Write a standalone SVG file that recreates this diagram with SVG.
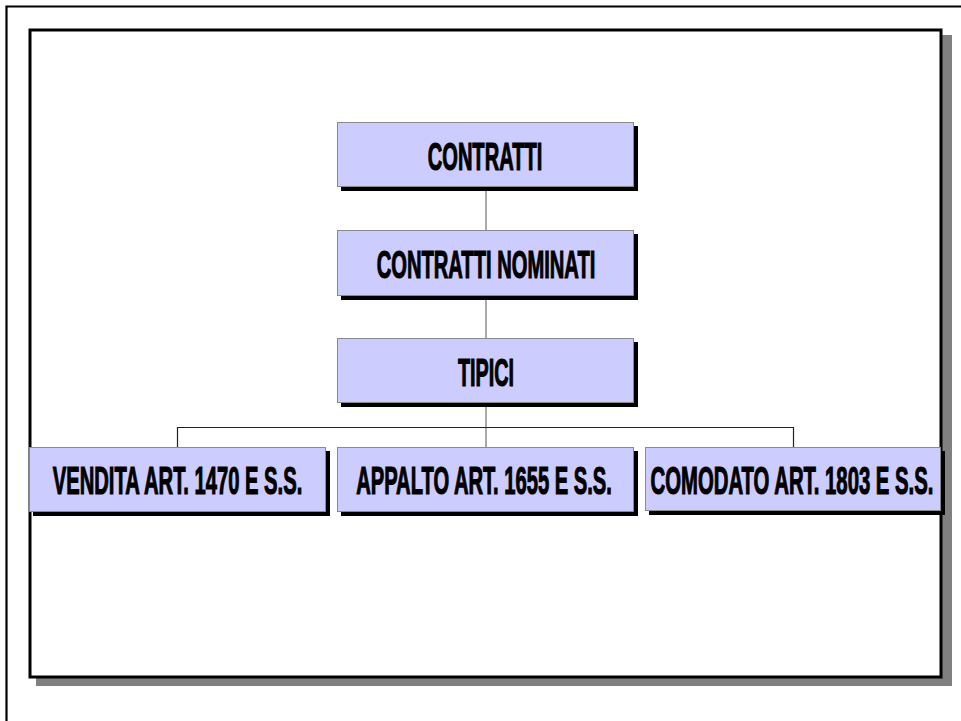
<svg xmlns="http://www.w3.org/2000/svg" width="961" height="721" viewBox="0 0 961 721">
<style>
.box{fill:#CCCCFF;stroke:#8a8a8a;stroke-width:1}
.sh{fill:#000}
.lbl{font-family:"Liberation Sans",Arial,sans-serif;font-weight:bold;font-size:39px;fill:#000;stroke:#000;stroke-width:1.2;text-anchor:middle}
.v{stroke:#555;stroke-width:1;fill:none}
.h{stroke:#222;stroke-width:1.2;fill:none}
</style>
<rect width="961" height="721" fill="#fff"/>
<g id="outer-frame">
<path d="M6.5,721 V6.5 H961" fill="none" stroke="#000" stroke-width="2.2"/>
</g>
<g id="slide-frame">
<rect x="36" y="35" width="916" height="651" fill="#808080"/>
<rect x="30" y="30" width="911" height="647" fill="#fff" stroke="#000" stroke-width="3"/>
</g>
<g id="connectors">
<path class="v" d="M486,187 V230"/>
<path class="v" d="M486,296 V338"/>
<path class="v" d="M486,403 V447"/>
<path class="h" d="M177.5,447 V427.5 H793.5 V447"/>
</g>
<g id="n-contratti">
<rect class="sh" x="341" y="126" width="297" height="65"/>
<rect class="box" x="337.5" y="122.5" width="296" height="64"/>
<text class="lbl" transform="translate(485,170) scale(0.515,1)">CONTRATTI</text>
</g>
<g id="n-nominati">
<rect class="sh" x="341" y="234" width="297" height="66"/>
<rect class="box" x="337.5" y="230.5" width="296" height="65"/>
<text class="lbl" transform="translate(486,278) scale(0.517,1)">CONTRATTI NOMINATI</text>
</g>
<g id="n-tipici">
<rect class="sh" x="341" y="342" width="297" height="65"/>
<rect class="box" x="337.5" y="338.5" width="296" height="64"/>
<text class="lbl" transform="translate(486,386) scale(0.507,1)">TIPICI</text>
</g>
<g id="n-vendita">
<rect class="sh" x="33" y="451" width="297" height="65"/>
<rect class="box" x="29.5" y="447.5" width="296" height="64"/>
<text class="lbl" transform="translate(177.5,494) scale(0.518,1)">VENDITA ART. 1470 E S.S.</text>
</g>
<g id="n-appalto">
<rect class="sh" x="341" y="451" width="297" height="65"/>
<rect class="box" x="337.5" y="447.5" width="296" height="64"/>
<text class="lbl" transform="translate(484,494) scale(0.517,1)">APPALTO ART. 1655 E S.S.</text>
</g>
<g id="n-comodato">
<rect class="sh" x="649" y="451" width="296" height="64"/>
<rect class="box" x="645.5" y="447.5" width="295" height="63"/>
<text class="lbl" transform="translate(792,494) scale(0.521,1)">COMODATO ART. 1803 E S.S.</text>
</g>
</svg>
